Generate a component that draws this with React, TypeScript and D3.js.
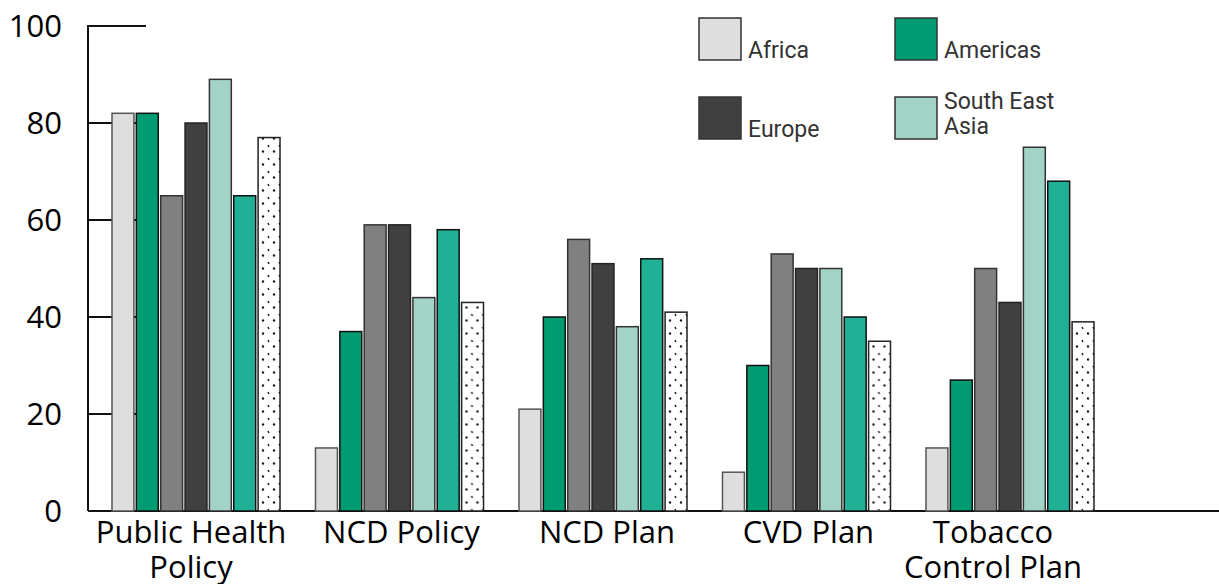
import * as d3 from "d3";

const categories = [
  ["Public Health", "Policy"],
  ["NCD Policy"],
  ["NCD Plan"],
  ["CVD Plan"],
  ["Tobacco", "Control Plan"],
];

const regions = [
  "Africa",
  "Americas",
  "Eastern Mediterranean",
  "Europe",
  "South East Asia",
  "Western Pacific",
  "Global",
];

// percent by category, one row per region
const africa = [82, 13, 21, 8, 13];
const americas = [82, 37, 40, 30, 27];
const eastMed = [65, 59, 56, 53, 50];
const europe = [80, 59, 51, 50, 43];
const seAsia = [89, 44, 38, 50, 75];
const westPac = [65, 58, 52, 40, 68];
const global = [77, 43, 41, 35, 39];

const series = [africa, americas, eastMed, europe, seAsia, westPac, global];

const yTicks = [0, 20, 40, 60, 80, 100];

const fills = ["#dedede", "#009b70", "#808080", "#404040", "#a3d3c6", "#20b096", "url(#dots)"];
const strokes = ["#555", "#111", "#333", "#222", "#333", "#111", "#222"];

// labels in the original are not quite centred on their groups
const labelShift = [-5, 2, 4, 2, -17];

const legendItems = [
  { label: ["Africa"], idx: 0 },
  { label: ["Americas"], idx: 1 },
  { label: ["Europe"], idx: 3 },
  { label: ["South East", "Asia"], idx: 4 },
];

export default function App() {
  const width = 1219;
  const height = 584;
  const axisX = 88;

  const y = d3.scaleLinear().domain([0, 100]).range([511, 26]);
  const x0 = d3
    .scaleBand<number>()
    .domain(d3.range(categories.length))
    .range([112, 1094])
    .paddingInner(0.1744)
    .paddingOuter(0)
    .align(0);
  const x1 = d3
    .scaleBand<number>()
    .domain(d3.range(series.length))
    .range([0, x0.bandwidth()])
    .paddingInner(0.1);

  const axisFont = "'Open Sans', 'Noto Sans', sans-serif";
  const legendFont = "Roboto, 'Liberation Sans', sans-serif";

  return (
    <svg
      width={width}
      height={height}
      style={{ position: "absolute", left: 0, top: 0, background: "#fff" }}
    >
      <defs>
        <pattern id="dots" width="11" height="13" patternUnits="userSpaceOnUse">
          <rect width="11" height="13" fill="#fff" />
          <line x1="2" y1="2" x2="3" y2="4" stroke="#111" strokeWidth="1.4" />
          <line x1="8.5" y1="7.5" x2="7.5" y2="9.5" stroke="#111" strokeWidth="2" />
        </pattern>
      </defs>

      {/* y ticks */}
      {yTicks.map((t) => (
        <g key={t}>
          <line x1={axisX} x2={146} y1={y(t)} y2={y(t)} stroke="#111" strokeWidth={2} />
          <text
            x={62}
            y={y(t)}
            dy="0.36em"
            textAnchor="end"
            fontFamily={axisFont}
            fontSize={31}
            fill="#000"
          >
            {t}
          </text>
        </g>
      ))}
      <line x1={axisX} x2={axisX} y1={y(100) - 1} y2={y(0)} stroke="#111" strokeWidth={2} />
      <line x1={axisX} x2={width} y1={y(0)} y2={y(0)} stroke="#111" strokeWidth={2} />

      {/* bars */}
      {categories.map((cat, ci) => (
        <g key={ci} transform={`translate(${x0(ci)},0)`}>
          {series.map((vals, si) => (
            <rect
              key={si}
              x={x1(si)}
              y={y(vals[ci])}
              width={x1.bandwidth()}
              height={y(0) - y(vals[ci])}
              fill={fills[si]}
              stroke={strokes[si]}
              strokeWidth={1.5}
            />
          ))}
          <text
            y={543}
            textAnchor="middle"
            fontFamily={axisFont}
            fontSize={31}
            fill="#000"
          >
            {cat.map((line, li) => (
              <tspan
                key={li}
                x={x0.bandwidth() / 2 + labelShift[ci]}
                dy={li === 0 ? 0 : 35}
              >
                {line}
              </tspan>
            ))}
          </text>
        </g>
      ))}

      {/* legend */}
      {legendItems.map((item, i) => {
        const lx = 699 + (i % 2) * 196;
        const ly = 18 + Math.floor(i / 2) * 79;
        return (
          <g key={item.idx} transform={`translate(${lx},${ly})`}>
            <rect
              x={0}
              y={0}
              width={42}
              height={42}
              fill={fills[item.idx]}
              stroke="#333"
              strokeWidth={1.5}
            />
            <text fontFamily={legendFont} fontSize={23} fill="#333">
              {item.label.length === 1 ? (
                <tspan x={49} y={40}>
                  {item.label[0]}
                </tspan>
              ) : (
                item.label.map((l, li) => (
                  <tspan key={li} x={49} y={12 + li * 25}>
                    {l}
                  </tspan>
                ))
              )}
            </text>
          </g>
        );
      })}
    </svg>
  );
}
